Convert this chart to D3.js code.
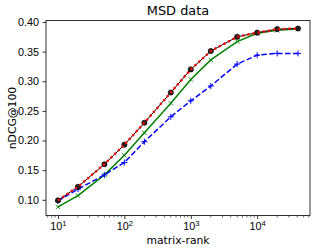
<!DOCTYPE html>
<html>
<head>
<meta charset="utf-8">
<script src="https://cdn.jsdelivr.net/npm/d3@7"></script>
<style>
  body { margin: 0; background: #fff; }
  svg { font-family: 'DejaVu Sans', sans-serif; }
</style>
</head>
<body>
<script>
// values
const ranks = [10, 20, 50, 100, 200, 500, 1000, 2000, 5000, 10000, 20000, 41140]
const blackVals = [0.099, 0.122, 0.160, 0.193, 0.230, 0.281, 0.320, 0.351, 0.375, 0.382, 0.388, 0.389]
const redVals = [0.099, 0.122, 0.160, 0.193, 0.230, 0.281, 0.320, 0.351, 0.375, 0.382, 0.388, 0.389]
const greenVals = [0.088, 0.107, 0.142, 0.175, 0.213, 0.263, 0.303, 0.336, 0.367, 0.381, 0.386, 0.388]
const blueVals = [0.098, 0.118, 0.142, 0.163, 0.198, 0.240, 0.267, 0.292, 0.329, 0.344, 0.347, 0.347]
const yTicks = [0.10, 0.15, 0.20, 0.25, 0.30, 0.35, 0.40]
const xTicks = [10, 100, 1000, 10000]

let width = 316
let height = 250
let m = { left: 46, right: 310, top: 20.5, bottom: 215.5 }

let svg = d3.select('body').append('svg')
  .attr('width', width)
  .attr('height', height)

let x = d3.scaleLog().domain([6.6, 62400]).range([m.left, m.right])
let y = d3.scaleLinear().domain([0.0735, 0.4025]).range([m.bottom, m.top])

let xAxis = svg.append('g')
  .attr('transform', `translate(0,${m.bottom})`)
  .call(d3.axisBottom(x).tickValues(xTicks).tickSize(3.5).tickPadding(3.5).tickFormat(''))
xAxis.select('.domain').remove()
xAxis.selectAll('.tick line').attr('stroke-width', 0.8)
xAxis.selectAll('.tick text').each(function (d) {
  let t = d3.select(this)
    .attr('font-size', 10.8)
    .attr('fill', '#000')
  t.append('tspan').text('10')
  t.append('tspan').attr('dy', -4.5).attr('font-size', 7.6).text(Math.round(Math.log10(d)))
})

// minor ticks
let minor = []
for (let e = 0; e < 5; e++) {
  for (let k = 2; k < 10; k++) {
    let v = k * Math.pow(10, e)
    if (v > x.domain()[0] && v < x.domain()[1]) minor.push(v)
  }
}
svg.append('g').selectAll('line')
  .data(minor)
  .enter().append('line')
  .attr('x1', d => x(d)).attr('x2', d => x(d))
  .attr('y1', m.bottom).attr('y2', m.bottom + 2)
  .attr('stroke', '#000').attr('stroke-width', 0.6)

let yAxis = svg.append('g')
  .attr('transform', `translate(${m.left},0)`)
  .call(d3.axisLeft(y).tickValues(yTicks).tickSize(3.5).tickPadding(3.5).tickFormat(d3.format('.2f')))
yAxis.select('.domain').remove()
yAxis.selectAll('.tick line').attr('stroke-width', 0.8)
yAxis.selectAll('.tick text').attr('font-size', 10.8).attr('fill', '#000')

// frame
svg.append('rect')
  .attr('x', m.left).attr('y', m.top)
  .attr('width', m.right - m.left).attr('height', m.bottom - m.top)
  .attr('fill', 'none').attr('stroke', '#000').attr('stroke-width', 0.8)

let line = vals => d3.line()
  .x((d, i) => x(ranks[i]))
  .y(d => y(d))(vals)

let plot = svg.append('g')

// green, x markers
plot.append('path').attr('d', line(greenVals))
  .attr('fill', 'none').attr('stroke', '#008000').attr('stroke-width', 1.5)
plot.selectAll('.gx').data(greenVals).enter().append('path')
  .attr('class', 'gx')
  .attr('d', (d, i) => {
    let cx = x(ranks[i]); let cy = y(d); let s = 2.2
    return `M${cx - s},${cy - s}L${cx + s},${cy + s}M${cx - s},${cy + s}L${cx + s},${cy - s}`
  })
  .attr('stroke', '#008000').attr('stroke-width', 0.9)

// blue dashed, + markers
plot.append('path').attr('d', line(blueVals))
  .attr('fill', 'none').attr('stroke', '#0000ff').attr('stroke-width', 1.5)
  .attr('stroke-dasharray', '5.5,2.4')
plot.selectAll('.bp').data(blueVals).enter().append('path')
  .attr('class', 'bp')
  .attr('d', (d, i) => {
    let cx = x(ranks[i]); let cy = y(d); let s = 3
    return `M${cx - s},${cy}L${cx + s},${cy}M${cx},${cy - s}L${cx},${cy + s}`
  })
  .attr('stroke', '#0000ff').attr('stroke-width', 1)

// black, circles
plot.append('path').attr('d', line(blackVals))
  .attr('fill', 'none').attr('stroke', '#000').attr('stroke-width', 1)
plot.selectAll('.bc').data(blackVals).enter().append('circle')
  .attr('class', 'bc')
  .attr('cx', (d, i) => x(ranks[i])).attr('cy', d => y(d))
  .attr('r', 2.6)
  .attr('fill', '#222').attr('stroke', '#000').attr('stroke-width', 0.7)

// red dotted
plot.append('path').attr('d', line(redVals))
  .attr('fill', 'none').attr('stroke', '#ff0000').attr('stroke-width', 2.3)
  .attr('stroke-dasharray', '2.3,2.9')

// labels
svg.append('text')
  .attr('x', (m.left + m.right) / 2).attr('y', 15)
  .attr('text-anchor', 'middle').attr('font-size', 12.9)
  .text('MSD data')

svg.append('text')
  .attr('x', (m.left + m.right) / 2).attr('y', 244)
  .attr('text-anchor', 'middle').attr('font-size', 10.8)
  .text('matrix-rank')

svg.append('text')
  .attr('transform', `translate(16,${(m.top + m.bottom) / 2}) rotate(-90)`)
  .attr('text-anchor', 'middle').attr('font-size', 10.8)
  .text('nDCG@100')
</script>
</body>
</html>
